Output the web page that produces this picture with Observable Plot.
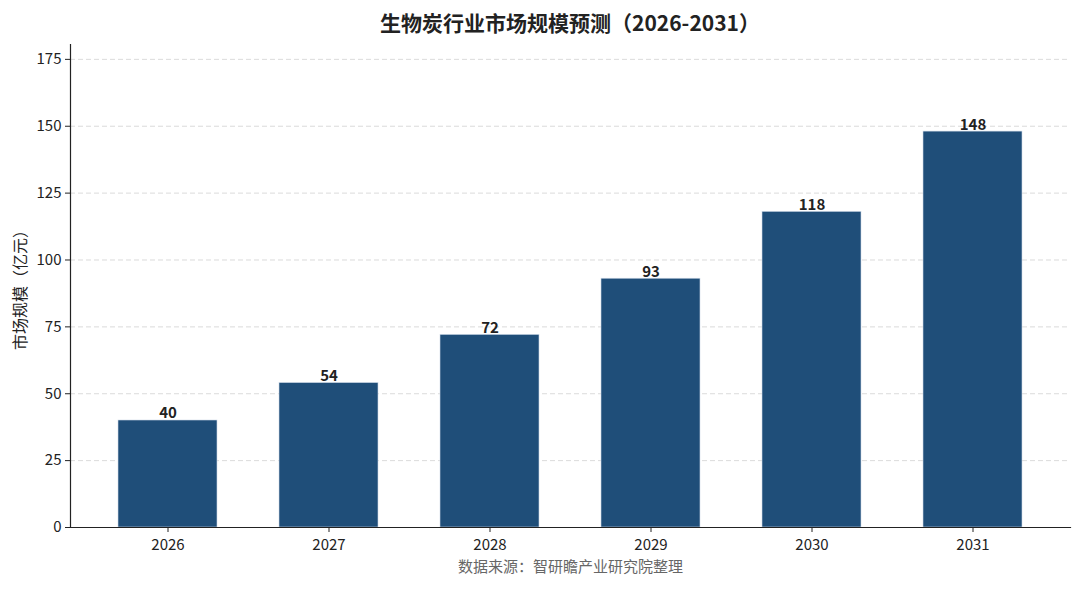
<!DOCTYPE html>
<html>
<head>
<meta charset="utf-8">
<script src="https://cdn.jsdelivr.net/npm/d3@7"></script>
<script src="https://cdn.jsdelivr.net/npm/@observablehq/plot@0.6"></script>
<style>
  html, body { margin: 0; padding: 0; background: #fff; }
  body { width: 1080px; height: 589px; overflow: hidden; font-family: "Noto Sans CJK SC", "Noto Sans", sans-serif; }
  #title { height: 44px; line-height: 44px; text-align: center; padding-left: 60px; font-size: 21px; font-weight: bold; color: #222; }
  #chart svg { display: block; }
</style>
</head>
<body>
<div id="title">生物炭行业市场规模预测（2026-2031）</div>
<div id="chart"></div>
<script>
const years = ["2026", "2027", "2028", "2029", "2030", "2031"];
const values = [40, 54, 72, 93, 118, 148];
const yTicks = [0, 25, 50, 75, 100, 125, 150, 175];
const yLabel = "市场规模（亿元）";
const source = "数据来源：智研瞻产业研究院整理";

const data = years.map((y, i) => ({year: y, value: values[i]}));
const font = "Noto Sans CJK SC, Noto Sans, sans-serif";

const chart = Plot.plot({
  width: 1080,
  height: 545,
  marginTop: 0,
  marginLeft: 70,
  marginRight: 10,
  marginBottom: 62,
  style: {fontFamily: font, fontSize: "15px", color: "#222", background: "#fff"},
  x: {domain: years, paddingInner: 0.382, paddingOuter: 0.28, label: null},
  y: {domain: [0, 180.56], label: null},
  marks: [
    Plot.gridY(yTicks, {stroke: "#ccc", strokeOpacity: 0.7, strokeDasharray: "5,3"}),
    Plot.barY(data, {x: "year", y: "value", fill: "#1f4e79", stroke: "#cfdbe8", strokeWidth: 0.6}),
    Plot.text(data, {x: "year", y: "value", text: d => String(d.value), lineAnchor: "bottom", dy: -2, fontWeight: "bold", fontSize: 15, fill: "#222"}),
    Plot.axisY({ticks: yTicks, tickSize: 5, tickPadding: 4, fontSize: 15, stroke: "#222", label: null}),
    Plot.axisX({tickSize: 5, tickPadding: 7, fontSize: 15, stroke: "#222", label: null}),
    Plot.frame({anchor: "bottom", stroke: "#222", strokeWidth: 1.2}),
    Plot.frame({anchor: "left", stroke: "#222", strokeWidth: 1.2}),
    Plot.text([yLabel], {frameAnchor: "left", textAnchor: "middle", rotate: -90, dx: -50, fontSize: 16, fill: "#222"}),
    Plot.text([source], {frameAnchor: "bottom", dy: 44, fontSize: 15, fill: "#666"})
  ]
});
document.getElementById("chart").appendChild(chart);
</script>
</body>
</html>
